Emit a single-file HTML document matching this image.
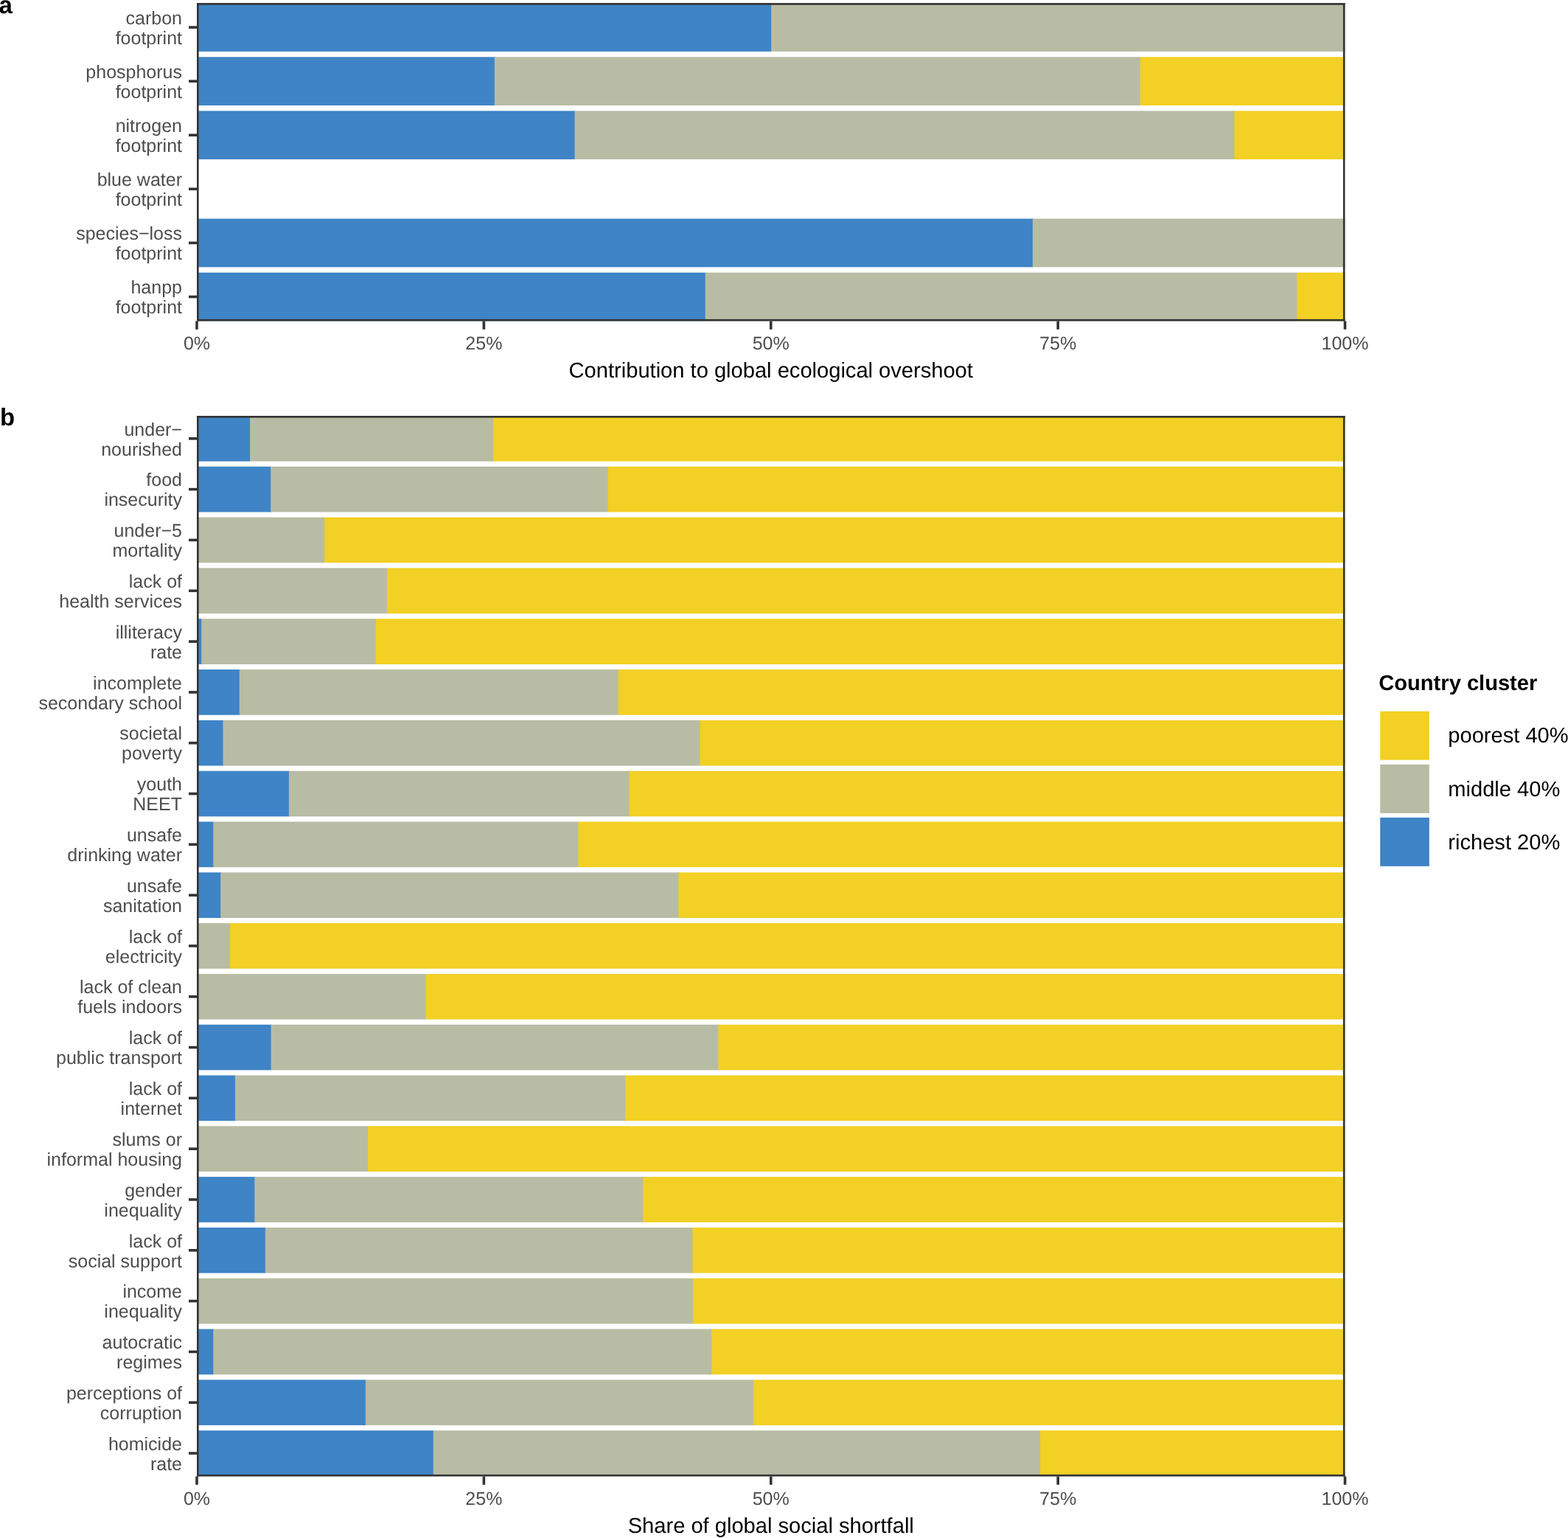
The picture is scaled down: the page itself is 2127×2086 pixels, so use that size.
<!DOCTYPE html>
<html><head><meta charset="utf-8"><title>Contribution to global ecological overshoot and social shortfall by country cluster</title>
<style>
html,body{margin:0;padding:0;background:#fff;}
body{width:2127px;height:2086px;overflow:hidden;}
svg{display:block;text-rendering:geometricPrecision;font-family:"Liberation Sans",Arial,Helvetica,sans-serif;}
</style></head>
<body>
<svg width="2127" height="2086" viewBox="0 0 2127 2086">
<rect width="2127" height="2086" fill="#fff"/>
<rect x="267.00" y="4.20" width="780.10" height="65.70" fill="#3E84C6"/>
<rect x="1046.10" y="4.20" width="778.40" height="65.70" fill="#B8BCA4"/>
<rect x="256.00" y="35.25" width="11.50" height="3.60" fill="#333333"/>
<text x="247.00" y="32.75" font-size="25" fill="#4D4D4D" text-anchor="end">carbon</text>
<text x="247.00" y="59.75" font-size="25" fill="#4D4D4D" text-anchor="end">footprint</text>
<rect x="267.00" y="77.30" width="404.80" height="65.70" fill="#3E84C6"/>
<rect x="670.80" y="77.30" width="876.80" height="65.70" fill="#B8BCA4"/>
<rect x="1546.60" y="77.30" width="277.90" height="65.70" fill="#F2D024"/>
<rect x="256.00" y="108.35" width="11.50" height="3.60" fill="#333333"/>
<text x="247.00" y="105.85" font-size="25" fill="#4D4D4D" text-anchor="end">phosphorus</text>
<text x="247.00" y="132.85" font-size="25" fill="#4D4D4D" text-anchor="end">footprint</text>
<rect x="267.00" y="150.40" width="513.50" height="65.70" fill="#3E84C6"/>
<rect x="779.50" y="150.40" width="895.90" height="65.70" fill="#B8BCA4"/>
<rect x="1674.40" y="150.40" width="150.10" height="65.70" fill="#F2D024"/>
<rect x="256.00" y="181.45" width="11.50" height="3.60" fill="#333333"/>
<text x="247.00" y="178.95" font-size="25" fill="#4D4D4D" text-anchor="end">nitrogen</text>
<text x="247.00" y="205.95" font-size="25" fill="#4D4D4D" text-anchor="end">footprint</text>
<rect x="256.00" y="254.55" width="11.50" height="3.60" fill="#333333"/>
<text x="247.00" y="252.05" font-size="25" fill="#4D4D4D" text-anchor="end">blue water</text>
<text x="247.00" y="279.05" font-size="25" fill="#4D4D4D" text-anchor="end">footprint</text>
<rect x="267.00" y="296.60" width="1134.80" height="65.70" fill="#3E84C6"/>
<rect x="1400.80" y="296.60" width="423.70" height="65.70" fill="#B8BCA4"/>
<rect x="256.00" y="327.65" width="11.50" height="3.60" fill="#333333"/>
<text x="247.00" y="325.15" font-size="25" fill="#4D4D4D" text-anchor="end">species−loss</text>
<text x="247.00" y="352.15" font-size="25" fill="#4D4D4D" text-anchor="end">footprint</text>
<rect x="267.00" y="369.70" width="690.70" height="65.70" fill="#3E84C6"/>
<rect x="956.70" y="369.70" width="803.70" height="65.70" fill="#B8BCA4"/>
<rect x="1759.40" y="369.70" width="65.10" height="65.70" fill="#F2D024"/>
<rect x="256.00" y="400.75" width="11.50" height="3.60" fill="#333333"/>
<text x="247.00" y="398.25" font-size="25" fill="#4D4D4D" text-anchor="end">hanpp</text>
<text x="247.00" y="425.25" font-size="25" fill="#4D4D4D" text-anchor="end">footprint</text>
<rect x="267.00" y="4.10" width="1557.50" height="2.60" fill="#333333"/>
<rect x="267.00" y="432.90" width="1557.50" height="2.60" fill="#333333"/>
<rect x="267.00" y="4.10" width="2.60" height="431.40" fill="#333333"/>
<rect x="1821.90" y="4.10" width="2.60" height="431.40" fill="#333333"/>
<rect x="265.20" y="435.50" width="3.60" height="11.30" fill="#333333"/>
<text x="267.00" y="473.80" font-size="25" fill="#4D4D4D" text-anchor="middle">0%</text>
<rect x="654.58" y="435.50" width="3.60" height="11.30" fill="#333333"/>
<text x="656.38" y="473.80" font-size="25" fill="#4D4D4D" text-anchor="middle">25%</text>
<rect x="1043.95" y="435.50" width="3.60" height="11.30" fill="#333333"/>
<text x="1045.75" y="473.80" font-size="25" fill="#4D4D4D" text-anchor="middle">50%</text>
<rect x="1433.33" y="435.50" width="3.60" height="11.30" fill="#333333"/>
<text x="1435.12" y="473.80" font-size="25" fill="#4D4D4D" text-anchor="middle">75%</text>
<rect x="1822.70" y="435.50" width="3.60" height="11.30" fill="#333333"/>
<text x="1824.50" y="473.80" font-size="25" fill="#4D4D4D" text-anchor="middle">100%</text>
<text x="1045.75" y="512.30" font-size="29.1" fill="#000" text-anchor="middle">Contribution to global ecological overshoot</text>
<rect x="267.00" y="564.00" width="73.10" height="61.70" fill="#3E84C6"/>
<rect x="339.10" y="564.00" width="331.20" height="61.70" fill="#B8BCA4"/>
<rect x="669.30" y="564.00" width="1155.20" height="61.70" fill="#F2D024"/>
<rect x="256.00" y="593.05" width="11.50" height="3.60" fill="#333333"/>
<text x="247.00" y="590.55" font-size="25" fill="#4D4D4D" text-anchor="end">under−</text>
<text x="247.00" y="617.55" font-size="25" fill="#4D4D4D" text-anchor="end">nourished</text>
<rect x="267.00" y="632.81" width="101.20" height="61.70" fill="#3E84C6"/>
<rect x="367.20" y="632.81" width="458.50" height="61.70" fill="#B8BCA4"/>
<rect x="824.70" y="632.81" width="999.80" height="61.70" fill="#F2D024"/>
<rect x="256.00" y="661.86" width="11.50" height="3.60" fill="#333333"/>
<text x="247.00" y="659.36" font-size="25" fill="#4D4D4D" text-anchor="end">food</text>
<text x="247.00" y="686.36" font-size="25" fill="#4D4D4D" text-anchor="end">insecurity</text>
<rect x="267.00" y="701.62" width="174.10" height="61.70" fill="#B8BCA4"/>
<rect x="440.10" y="701.62" width="1384.40" height="61.70" fill="#F2D024"/>
<rect x="256.00" y="730.67" width="11.50" height="3.60" fill="#333333"/>
<text x="247.00" y="728.17" font-size="25" fill="#4D4D4D" text-anchor="end">under−5</text>
<text x="247.00" y="755.17" font-size="25" fill="#4D4D4D" text-anchor="end">mortality</text>
<rect x="267.00" y="770.43" width="259.00" height="61.70" fill="#B8BCA4"/>
<rect x="525.00" y="770.43" width="1299.50" height="61.70" fill="#F2D024"/>
<rect x="256.00" y="799.48" width="11.50" height="3.60" fill="#333333"/>
<text x="247.00" y="796.98" font-size="25" fill="#4D4D4D" text-anchor="end">lack of</text>
<text x="247.00" y="823.98" font-size="25" fill="#4D4D4D" text-anchor="end">health services</text>
<rect x="267.00" y="839.24" width="7.20" height="61.70" fill="#3E84C6"/>
<rect x="273.20" y="839.24" width="237.60" height="61.70" fill="#B8BCA4"/>
<rect x="509.80" y="839.24" width="1314.70" height="61.70" fill="#F2D024"/>
<rect x="256.00" y="868.29" width="11.50" height="3.60" fill="#333333"/>
<text x="247.00" y="865.79" font-size="25" fill="#4D4D4D" text-anchor="end">illiteracy</text>
<text x="247.00" y="892.79" font-size="25" fill="#4D4D4D" text-anchor="end">rate</text>
<rect x="267.00" y="908.05" width="58.70" height="61.70" fill="#3E84C6"/>
<rect x="324.70" y="908.05" width="515.00" height="61.70" fill="#B8BCA4"/>
<rect x="838.70" y="908.05" width="985.80" height="61.70" fill="#F2D024"/>
<rect x="256.00" y="937.10" width="11.50" height="3.60" fill="#333333"/>
<text x="247.00" y="934.60" font-size="25" fill="#4D4D4D" text-anchor="end">incomplete</text>
<text x="247.00" y="961.60" font-size="25" fill="#4D4D4D" text-anchor="end">secondary school</text>
<rect x="267.00" y="976.86" width="36.50" height="61.70" fill="#3E84C6"/>
<rect x="302.50" y="976.86" width="648.10" height="61.70" fill="#B8BCA4"/>
<rect x="949.60" y="976.86" width="874.90" height="61.70" fill="#F2D024"/>
<rect x="256.00" y="1005.91" width="11.50" height="3.60" fill="#333333"/>
<text x="247.00" y="1003.41" font-size="25" fill="#4D4D4D" text-anchor="end">societal</text>
<text x="247.00" y="1030.41" font-size="25" fill="#4D4D4D" text-anchor="end">poverty</text>
<rect x="267.00" y="1045.67" width="125.90" height="61.70" fill="#3E84C6"/>
<rect x="391.90" y="1045.67" width="462.70" height="61.70" fill="#B8BCA4"/>
<rect x="853.60" y="1045.67" width="970.90" height="61.70" fill="#F2D024"/>
<rect x="256.00" y="1074.72" width="11.50" height="3.60" fill="#333333"/>
<text x="247.00" y="1072.22" font-size="25" fill="#4D4D4D" text-anchor="end">youth</text>
<text x="247.00" y="1099.22" font-size="25" fill="#4D4D4D" text-anchor="end">NEET</text>
<rect x="267.00" y="1114.48" width="23.30" height="61.70" fill="#3E84C6"/>
<rect x="289.30" y="1114.48" width="496.00" height="61.70" fill="#B8BCA4"/>
<rect x="784.30" y="1114.48" width="1040.20" height="61.70" fill="#F2D024"/>
<rect x="256.00" y="1143.53" width="11.50" height="3.60" fill="#333333"/>
<text x="247.00" y="1141.03" font-size="25" fill="#4D4D4D" text-anchor="end">unsafe</text>
<text x="247.00" y="1168.03" font-size="25" fill="#4D4D4D" text-anchor="end">drinking water</text>
<rect x="267.00" y="1183.29" width="33.20" height="61.70" fill="#3E84C6"/>
<rect x="299.20" y="1183.29" width="622.10" height="61.70" fill="#B8BCA4"/>
<rect x="920.30" y="1183.29" width="904.20" height="61.70" fill="#F2D024"/>
<rect x="256.00" y="1212.34" width="11.50" height="3.60" fill="#333333"/>
<text x="247.00" y="1209.84" font-size="25" fill="#4D4D4D" text-anchor="end">unsafe</text>
<text x="247.00" y="1236.84" font-size="25" fill="#4D4D4D" text-anchor="end">sanitation</text>
<rect x="267.00" y="1252.10" width="45.90" height="61.70" fill="#B8BCA4"/>
<rect x="311.90" y="1252.10" width="1512.60" height="61.70" fill="#F2D024"/>
<rect x="256.00" y="1281.15" width="11.50" height="3.60" fill="#333333"/>
<text x="247.00" y="1278.65" font-size="25" fill="#4D4D4D" text-anchor="end">lack of</text>
<text x="247.00" y="1305.65" font-size="25" fill="#4D4D4D" text-anchor="end">electricity</text>
<rect x="267.00" y="1320.91" width="311.80" height="61.70" fill="#B8BCA4"/>
<rect x="577.80" y="1320.91" width="1246.70" height="61.70" fill="#F2D024"/>
<rect x="256.00" y="1349.96" width="11.50" height="3.60" fill="#333333"/>
<text x="247.00" y="1347.46" font-size="25" fill="#4D4D4D" text-anchor="end">lack of clean</text>
<text x="247.00" y="1374.46" font-size="25" fill="#4D4D4D" text-anchor="end">fuels indoors</text>
<rect x="267.00" y="1389.72" width="101.60" height="61.70" fill="#3E84C6"/>
<rect x="367.60" y="1389.72" width="607.80" height="61.70" fill="#B8BCA4"/>
<rect x="974.40" y="1389.72" width="850.10" height="61.70" fill="#F2D024"/>
<rect x="256.00" y="1418.77" width="11.50" height="3.60" fill="#333333"/>
<text x="247.00" y="1416.27" font-size="25" fill="#4D4D4D" text-anchor="end">lack of</text>
<text x="247.00" y="1443.27" font-size="25" fill="#4D4D4D" text-anchor="end">public transport</text>
<rect x="267.00" y="1458.53" width="52.90" height="61.70" fill="#3E84C6"/>
<rect x="318.90" y="1458.53" width="530.30" height="61.70" fill="#B8BCA4"/>
<rect x="848.20" y="1458.53" width="976.30" height="61.70" fill="#F2D024"/>
<rect x="256.00" y="1487.58" width="11.50" height="3.60" fill="#333333"/>
<text x="247.00" y="1485.08" font-size="25" fill="#4D4D4D" text-anchor="end">lack of</text>
<text x="247.00" y="1512.08" font-size="25" fill="#4D4D4D" text-anchor="end">internet</text>
<rect x="267.00" y="1527.34" width="233.10" height="61.70" fill="#B8BCA4"/>
<rect x="499.10" y="1527.34" width="1325.40" height="61.70" fill="#F2D024"/>
<rect x="256.00" y="1556.39" width="11.50" height="3.60" fill="#333333"/>
<text x="247.00" y="1553.89" font-size="25" fill="#4D4D4D" text-anchor="end">slums or</text>
<text x="247.00" y="1580.89" font-size="25" fill="#4D4D4D" text-anchor="end">informal housing</text>
<rect x="267.00" y="1596.15" width="79.30" height="61.70" fill="#3E84C6"/>
<rect x="345.30" y="1596.15" width="527.80" height="61.70" fill="#B8BCA4"/>
<rect x="872.10" y="1596.15" width="952.40" height="61.70" fill="#F2D024"/>
<rect x="256.00" y="1625.20" width="11.50" height="3.60" fill="#333333"/>
<text x="247.00" y="1622.70" font-size="25" fill="#4D4D4D" text-anchor="end">gender</text>
<text x="247.00" y="1649.70" font-size="25" fill="#4D4D4D" text-anchor="end">inequality</text>
<rect x="267.00" y="1664.96" width="93.80" height="61.70" fill="#3E84C6"/>
<rect x="359.80" y="1664.96" width="580.50" height="61.70" fill="#B8BCA4"/>
<rect x="939.30" y="1664.96" width="885.20" height="61.70" fill="#F2D024"/>
<rect x="256.00" y="1694.01" width="11.50" height="3.60" fill="#333333"/>
<text x="247.00" y="1691.51" font-size="25" fill="#4D4D4D" text-anchor="end">lack of</text>
<text x="247.00" y="1718.51" font-size="25" fill="#4D4D4D" text-anchor="end">social support</text>
<rect x="267.00" y="1733.77" width="674.10" height="61.70" fill="#B8BCA4"/>
<rect x="940.10" y="1733.77" width="884.40" height="61.70" fill="#F2D024"/>
<rect x="256.00" y="1762.82" width="11.50" height="3.60" fill="#333333"/>
<text x="247.00" y="1760.32" font-size="25" fill="#4D4D4D" text-anchor="end">income</text>
<text x="247.00" y="1787.32" font-size="25" fill="#4D4D4D" text-anchor="end">inequality</text>
<rect x="267.00" y="1802.58" width="23.30" height="61.70" fill="#3E84C6"/>
<rect x="289.30" y="1802.58" width="677.00" height="61.70" fill="#B8BCA4"/>
<rect x="965.30" y="1802.58" width="859.20" height="61.70" fill="#F2D024"/>
<rect x="256.00" y="1831.63" width="11.50" height="3.60" fill="#333333"/>
<text x="247.00" y="1829.13" font-size="25" fill="#4D4D4D" text-anchor="end">autocratic</text>
<text x="247.00" y="1856.13" font-size="25" fill="#4D4D4D" text-anchor="end">regimes</text>
<rect x="267.00" y="1871.39" width="229.80" height="61.70" fill="#3E84C6"/>
<rect x="495.80" y="1871.39" width="527.40" height="61.70" fill="#B8BCA4"/>
<rect x="1022.20" y="1871.39" width="802.30" height="61.70" fill="#F2D024"/>
<rect x="256.00" y="1900.44" width="11.50" height="3.60" fill="#333333"/>
<text x="247.00" y="1897.94" font-size="25" fill="#4D4D4D" text-anchor="end">perceptions of</text>
<text x="247.00" y="1924.94" font-size="25" fill="#4D4D4D" text-anchor="end">corruption</text>
<rect x="267.00" y="1940.20" width="321.70" height="61.70" fill="#3E84C6"/>
<rect x="587.70" y="1940.20" width="824.30" height="61.70" fill="#B8BCA4"/>
<rect x="1411.00" y="1940.20" width="413.50" height="61.70" fill="#F2D024"/>
<rect x="256.00" y="1969.25" width="11.50" height="3.60" fill="#333333"/>
<text x="247.00" y="1966.75" font-size="25" fill="#4D4D4D" text-anchor="end">homicide</text>
<text x="247.00" y="1993.75" font-size="25" fill="#4D4D4D" text-anchor="end">rate</text>
<rect x="267.00" y="564.00" width="1557.50" height="2.60" fill="#333333"/>
<rect x="267.00" y="1999.90" width="1557.50" height="2.60" fill="#333333"/>
<rect x="267.00" y="564.00" width="2.60" height="1438.50" fill="#333333"/>
<rect x="1821.90" y="564.00" width="2.60" height="1438.50" fill="#333333"/>
<rect x="265.20" y="2002.50" width="3.60" height="11.30" fill="#333333"/>
<text x="267.00" y="2040.80" font-size="25" fill="#4D4D4D" text-anchor="middle">0%</text>
<rect x="654.58" y="2002.50" width="3.60" height="11.30" fill="#333333"/>
<text x="656.38" y="2040.80" font-size="25" fill="#4D4D4D" text-anchor="middle">25%</text>
<rect x="1043.95" y="2002.50" width="3.60" height="11.30" fill="#333333"/>
<text x="1045.75" y="2040.80" font-size="25" fill="#4D4D4D" text-anchor="middle">50%</text>
<rect x="1433.33" y="2002.50" width="3.60" height="11.30" fill="#333333"/>
<text x="1435.12" y="2040.80" font-size="25" fill="#4D4D4D" text-anchor="middle">75%</text>
<rect x="1822.70" y="2002.50" width="3.60" height="11.30" fill="#333333"/>
<text x="1824.50" y="2040.80" font-size="25" fill="#4D4D4D" text-anchor="middle">100%</text>
<text x="1045.75" y="2079.10" font-size="29.1" fill="#000" text-anchor="middle">Share of global social shortfall</text>
<text x="-1.40" y="17.90" font-size="33" fill="#000" text-anchor="start" font-weight="bold">a</text>
<text x="0.00" y="576.90" font-size="33" fill="#000" text-anchor="start" font-weight="bold">b</text>
<text x="1870.30" y="936.20" font-size="29.1" fill="#000" text-anchor="start" font-weight="bold">Country cluster</text>
<rect x="1872.20" y="964.70" width="66.60" height="66.00" fill="#F2D024"/>
<text x="1964.30" y="1007.40" font-size="29.1" fill="#000" text-anchor="start">poorest 40%</text>
<rect x="1872.20" y="1036.90" width="66.60" height="66.00" fill="#B8BCA4"/>
<text x="1964.30" y="1079.60" font-size="29.1" fill="#000" text-anchor="start">middle 40%</text>
<rect x="1872.20" y="1108.90" width="66.60" height="66.00" fill="#3E84C6"/>
<text x="1964.30" y="1151.60" font-size="29.1" fill="#000" text-anchor="start">richest 20%</text>
</svg>
</body></html>
